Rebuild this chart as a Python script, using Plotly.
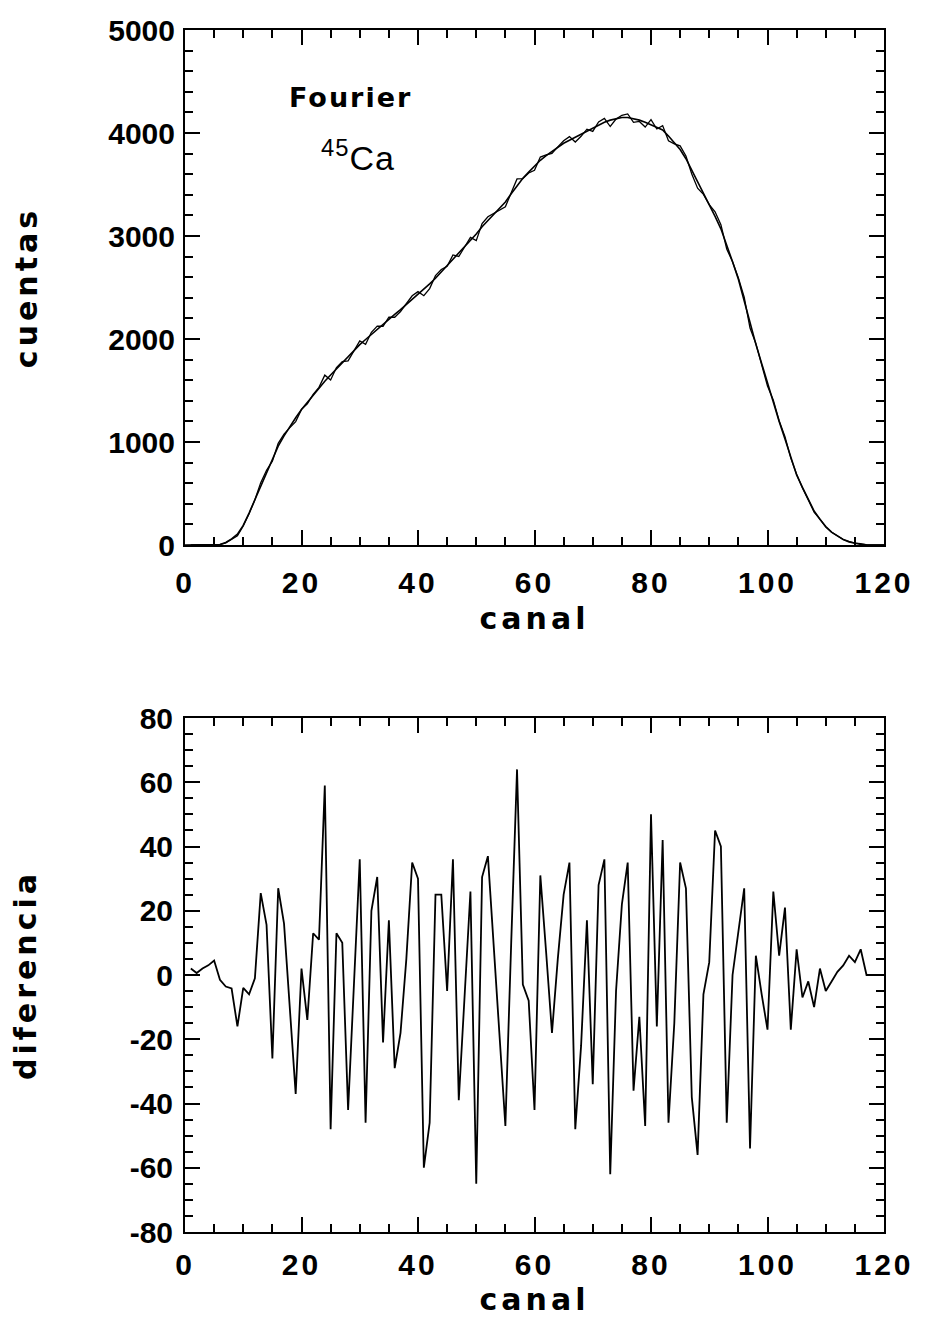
import plotly.graph_objects as go

# ---------------- data ----------------
canal_ajuste = list(range(0, 121))
cuentas_ajuste = [
    0, 0, 0, 0, 0, 0, 5, 25, 60, 105,
    190, 310, 440, 580, 710, 840, 960, 1060, 1150, 1235,
    1315, 1385, 1450, 1520, 1590, 1650, 1710, 1770, 1830, 1890,
    1945, 1995, 2045, 2095, 2145, 2195, 2240, 2285, 2335, 2385,
    2430, 2480, 2535, 2590, 2650, 2710, 2780, 2840, 2900, 2960,
    3020, 3090, 3150, 3210, 3270, 3330, 3410, 3490, 3560, 3620,
    3680, 3735, 3780, 3820, 3860, 3900, 3930, 3960, 3990, 4020,
    4050, 4080, 4105, 4125, 4140, 4150, 4150, 4140, 4125, 4105,
    4080, 4055, 4030, 3970, 3910, 3840, 3750, 3640, 3520, 3410,
    3300, 3190, 3070, 2920, 2750, 2580, 2380, 2160, 1950, 1760,
    1560, 1380, 1200, 1030, 860, 680, 560, 440, 330, 250,
    180, 125, 85, 52, 30, 15, 6, 1, 0, 0,
    0,
]

canal_dif = list(range(1, 121))
diferencia = [
    2, 0.6, 2, 3, 4.5, -1.5, -3.6, -4.2, -16, -4,
    -6, -1, 25.5, 15.6, -26, 27, 16, -10, -37, 2,
    -14, 13, 11, 59, -48, 13, 10, -42, -3, 36,
    -46, 20, 30.5, -21, 17, -29, -18, 5, 35, 30,
    -60, -46, 25, 25, -5, 36, -39, -7, 26, -65,
    30.5, 37, 9, -19, -47, 10, 64, -3, -8, -42,
    31, 7, -18, 5, 25, 35, -48, -22, 17, -34,
    28, 36, -62, -5, 22, 35, -36, -13, -47, 50,
    -16, 42, -46, -15, 35, 27, -38, -56, -6, 4,
    45, 40, -46, 0, 13, 27, -54, 6, -6, -17,
    26, 6, 21, -17, 8, -7, -2, -10, 2, -5,
    -2, 1, 3, 6, 4, 8, 0, 0, 0, 0,
]

cuentas_medida = [a + d for a, d in zip(cuentas_ajuste[1:], diferencia)]

x_ticks = [0, 20, 40, 60, 80, 100, 120]
x_labels = ["0", "20", "40", "60", "80", "100", "120"]
y1_ticks = [0, 1000, 2000, 3000, 4000, 5000]
y2_ticks = [-80, -60, -40, -20, 0, 20, 40, 60, 80]
y2_labels = ["-80", "-60", "-40", "-20", "0", "20", "40", "60", "80"]

# ---------------- figure ----------------
W, H = 930, 1325
OFF = 8  # page body margin
fig = go.Figure()

fig.add_trace(go.Scatter(x=canal_dif, y=cuentas_medida, mode="lines",
                         line=dict(color="black", width=1.3),
                         xaxis="x", yaxis="y", showlegend=False))
fig.add_trace(go.Scatter(x=canal_ajuste, y=cuentas_ajuste, mode="lines",
                         line=dict(color="black", width=1.6),
                         xaxis="x", yaxis="y", showlegend=False))
fig.add_trace(go.Scatter(x=canal_dif, y=diferencia, mode="lines",
                         line=dict(color="black", width=1.8),
                         xaxis="x2", yaxis="y2", showlegend=False))

def px_x(p):
    return (p - OFF) / W

def px_y(p):
    return 1 - (p - OFF) / H

xd = [px_x(185), px_x(884)]
yd1 = [px_y(545), px_y(30)]
yd2 = [px_y(1232), px_y(718)]

tickfont = dict(family="Liberation Sans, Arial, sans-serif", size=30, color="black", weight="bold")
titlefont = dict(family="DejaVu Sans, sans-serif", size=30, color="black", weight="bold")

def spaced(t, sp=4):
    return '<span style="letter-spacing:%dpx">%s</span>' % (sp, t)

x_ticktext = [spaced(t, 3) for t in x_labels]

common = dict(
    showline=True, linecolor="black", linewidth=2, mirror="allticks",
    ticks="inside", ticklen=15, tickwidth=2, tickcolor="black",
    showgrid=False, zeroline=False, tickfont=tickfont, automargin=False,
)

fig.update_layout(
    template="none",
    width=W, height=H,
    margin=dict(l=0, r=0, t=0, b=0, pad=0),
    paper_bgcolor="white", plot_bgcolor="white",
    xaxis=dict(domain=xd, anchor="y", range=[0, 120], tickvals=x_ticks, ticktext=x_ticktext,
               minor=dict(dtick=5, tick0=0, ticklen=8, tickwidth=1.5, tickcolor="black", ticks="inside"),
               ticklabelstandoff=10,
               title=dict(text=spaced("canal"), font=titlefont, standoff=10),
               **common),
    yaxis=dict(domain=yd1, anchor="x", range=[0, 5000], tickvals=y1_ticks,
               minor=dict(dtick=200, tick0=0, ticklen=8, tickwidth=1.5, tickcolor="black", ticks="inside"),
               ticklabelstandoff=2,
               title=dict(text=spaced("cuentas"), font=titlefont, standoff=62),
               **common),
    xaxis2=dict(domain=xd, anchor="y2", range=[0, 120], tickvals=x_ticks, ticktext=x_ticktext,
                minor=dict(dtick=5, tick0=0, ticklen=8, tickwidth=1.5, tickcolor="black", ticks="inside"),
                ticklabelstandoff=5,
                title=dict(text=spaced("canal"), font=titlefont, standoff=9),
                **common),
    yaxis2=dict(domain=yd2, anchor="x2", range=[-80, 80], tickvals=y2_ticks, ticktext=y2_labels,
                minor=dict(dtick=5, tick0=0, ticklen=8, tickwidth=1.5, tickcolor="black", ticks="inside"),
                ticklabelstandoff=4,
                title=dict(text=spaced("diferencia"), font=titlefont, standoff=84),
                **common),
    annotations=[
        dict(text=spaced("Fourier", 2), xref="paper", yref="paper",
             x=px_x(350), y=px_y(97), showarrow=False, xanchor="center", yanchor="middle",
             font=dict(family="DejaVu Sans, sans-serif", size=27, color="black", weight="bold")),
        dict(text=spaced("<sup>45</sup>Ca", 1), xref="paper", yref="paper",
             x=px_x(358), y=px_y(155), showarrow=False, xanchor="center", yanchor="middle",
             font=dict(family="Liberation Sans, Arial, sans-serif", size=34, color="black")),
    ],
)

fig.write_html("out.html")
